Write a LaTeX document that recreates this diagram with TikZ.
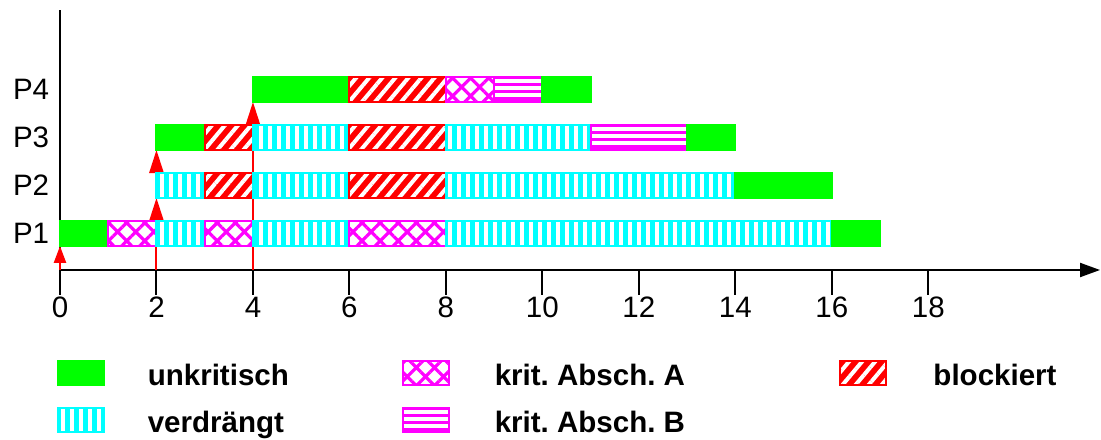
\documentclass[tikz,border=0pt]{standalone}
\usepackage{fontspec}
\setmainfont{Liberation Sans}
\usetikzlibrary{arrows.meta,patterns.meta,positioning,calc}

\definecolor{gruen}{RGB}{0,255,0}
\definecolor{tuerkis}{RGB}{0,255,255}
\definecolor{lila}{RGB}{255,0,255}
\definecolor{rot}{RGB}{255,0,0}

\tikzset{
  rand/.style={line width=0.05cm},
  unkrit/.style={rand,fill=gruen,draw=gruen},
  verdr/.style={rand,preaction={fill=tuerkis},draw=tuerkis,
    pattern={Lines[angle=90,distance=0.225cm,line width=0.1cm]},pattern color=white},
  kritA/.style={rand,preaction={fill=white},draw=lila,
    pattern={Hatch[angle=45,distance=0.32cm,line width=0.08cm]},pattern color=lila},
  kritB/.style={rand,fill=lila,draw=lila,path picture={
    \foreach \f in {0.28,0.57,0.85}
      \draw[white,line width=0.1cm]
        ($(path picture bounding box.south west)!\f!(path picture bounding box.north west)$) --
        ($(path picture bounding box.south east)!\f!(path picture bounding box.north east)$);}},
  block/.style={rand,preaction={fill=rot},draw=rot,
    pattern={Lines[angle=50,distance=0.25cm,line width=0.1cm]},pattern color=white},
  achse/.style={line width=0.05cm},
  ankunft/.style={draw=rot,line width=0.05cm,-{Triangle[length=0.58cm,width=0.36cm]}},
  lbl/.style={font=\fontsize{21}{25}\selectfont,inner sep=0pt},
  legbox/.style={minimum width=1.15cm,minimum height=0.6cm,inner sep=0pt,outer sep=0pt},
  legtxt/.style={font=\fontsize{21}{25}\selectfont\bfseries,inner sep=0pt,text height=0.6cm,text depth=0pt}
}

\begin{document}
\begin{tikzpicture}[x=1.206cm,y=1.2cm]
\useasboundingbox (-1.5cm,-4.25cm) rectangle (26.025cm,6.75cm);

% Zeitachse
\draw[achse] (0,0) -- (0,5.42);
\draw[achse,-{Triangle[length=0.5cm,width=0.35cm]}] (0,0) -- (21.56,0);
\foreach \t in {0,2,...,18} {
  \coordinate (x\t) at (\t,0);
  \draw[achse] (x\t) -- (\t,-0.52);
  \node[lbl] (t\t) at (\t,-0.78) {\t};
}

% Ankunft der Prozesse
\coordinate (p1s) at (0,0.5);
\coordinate (p2s) at (2,1.5);
\coordinate (p3s) at (2,2.5);
\coordinate (p4s) at (4,3.5);
\draw[ankunft,-{Triangle[length=0.42cm,width=0.3cm]}] (x0) -- (p1s);
\draw[ankunft] (x2) -- (p2s);
\draw[ankunft] (p2s) -- (p3s);
\draw[ankunft] (x4) -- (p4s);

% Ablauf P1 bis P4
\foreach \k/\liste in {
  1/{unkrit/0/1,kritA/1/2,verdr/2/3,kritA/3/4,verdr/4/6,kritA/6/8,verdr/8/16,unkrit/16/17},
  2/{verdr/2/3,block/3/4,verdr/4/6,block/6/8,verdr/8/14,unkrit/14/16},
  3/{unkrit/2/3,block/3/4,verdr/4/6,block/6/8,verdr/8/11,kritB/11/13,unkrit/13/14},
  4/{unkrit/4/6,block/6/8,kritA/8/9,kritB/9/10,unkrit/10/11}} {
  \node[lbl] (p\k) at (-0.6,\k-0.24) {P\k};
  \foreach \art/\a/\b in \liste
    \path[\art] (\a,\k-0.5) rectangle (\b,\k+0.02);
}

% Legende
\node[legbox,unkrit] (lg1) at (0.5125cm,-2.5875cm) {};
\node[legbox,verdr,below=0.575cm of lg1] (lg2) {};
\node[legbox,kritA] (lg3) at (9.1375cm,-2.5875cm) {};
\node[legbox,kritB,below=0.575cm of lg3] (lg4) {};
\node[legbox,block] (lg5) at (20.075cm,-2.5875cm) {};
\node[legtxt,right=1.1cm of lg1] (lt1) {unkritisch};
\node[legtxt,right=1.1cm of lg2] (lt2) {verdrängt};
\node[legtxt,right=1.15cm of lg3] (lt3) {krit.\ Absch.\ A};
\node[legtxt,right=1.15cm of lg4] (lt4) {krit.\ Absch.\ B};
\node[legtxt,right=1.18cm of lg5] (lt5) {blockiert};
\end{tikzpicture}
\end{document}
